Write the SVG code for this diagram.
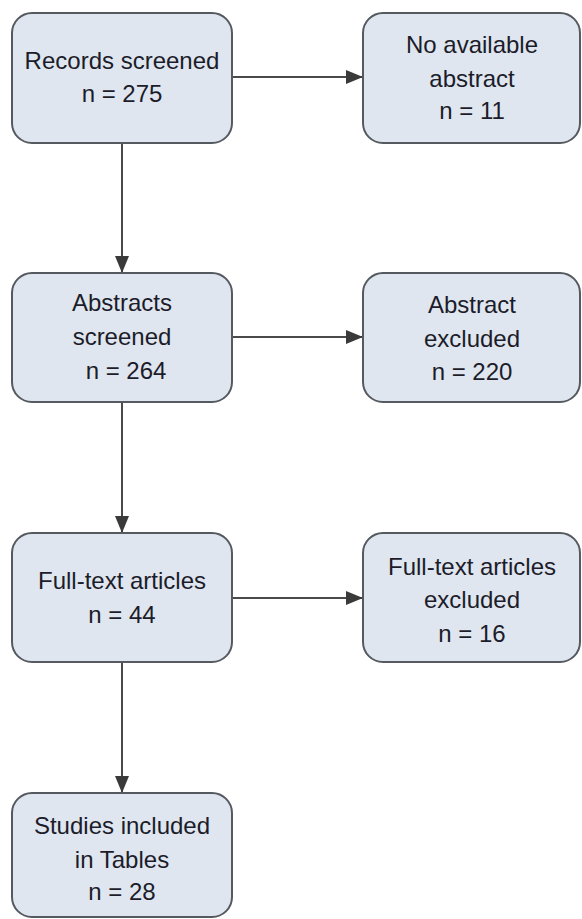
<svg xmlns="http://www.w3.org/2000/svg" width="582" height="919" viewBox="0 0 582 919">
<style>
.box{fill:#dfe6ef;stroke:#555a60;stroke-width:2}
.t{font-family:"Liberation Sans",Arial,sans-serif;font-size:24px;fill:#1c1c2a;text-anchor:middle}
.c{stroke:#4a4a4a;stroke-width:2;fill:none;marker-end:url(#ah)}
</style>
<defs>
<marker id="ah" markerWidth="18" markerHeight="18" refX="17" refY="9" orient="auto" markerUnits="userSpaceOnUse" viewBox="0 0 18 18">
<path d="M0,2 L17,9 L0,16 Z" fill="#3a3a3a"/>
</marker>
</defs>
<rect width="582" height="919" fill="#ffffff"/>
<g id="connectors">
<path class="c" d="M122,143 V273"/>
<path class="c" d="M232,77 H363"/>
<path class="c" d="M122,402 V533"/>
<path class="c" d="M232,337 H363"/>
<path class="c" d="M122,662 V793"/>
<path class="c" d="M232,598 H363"/>
</g>
<g id="n1">
<rect class="box" x="12" y="13" width="220" height="130" rx="20"/>
<text class="t" x="122" y="69">Records screened</text>
<text class="t" x="122" y="102">n = 275</text>
</g>
<g id="n2">
<rect class="box" x="363" y="13" width="217" height="130" rx="20"/>
<text class="t" x="472" y="53">No available</text>
<text class="t" x="472" y="87">abstract</text>
<text class="t" x="472" y="119">n =  11</text>
</g>
<g id="n3">
<rect class="box" x="12" y="273" width="220" height="129" rx="20"/>
<text class="t" x="122" y="311">Abstracts</text>
<text class="t" x="122" y="345">screened</text>
<text class="t" x="126" y="379">n = 264</text>
</g>
<g id="n4">
<rect class="box" x="363" y="273" width="217" height="129" rx="20"/>
<text class="t" x="472" y="313">Abstract</text>
<text class="t" x="472" y="347">excluded</text>
<text class="t" x="472" y="380">n = 220</text>
</g>
<g id="n5">
<rect class="box" x="12" y="533" width="220" height="129" rx="20"/>
<text class="t" x="122" y="589">Full-text articles</text>
<text class="t" x="122" y="623">n = 44</text>
</g>
<g id="n6">
<rect class="box" x="363" y="533" width="217" height="129" rx="20"/>
<text class="t" x="472" y="575">Full-text articles</text>
<text class="t" x="472" y="608">excluded</text>
<text class="t" x="472" y="642">n = 16</text>
</g>
<g id="n7">
<rect class="box" x="12" y="793" width="220" height="124" rx="20"/>
<text class="t" x="122" y="834">Studies included</text>
<text class="t" x="122" y="868">in Tables</text>
<text class="t" x="122" y="900">n = 28</text>
</g>
</svg>
